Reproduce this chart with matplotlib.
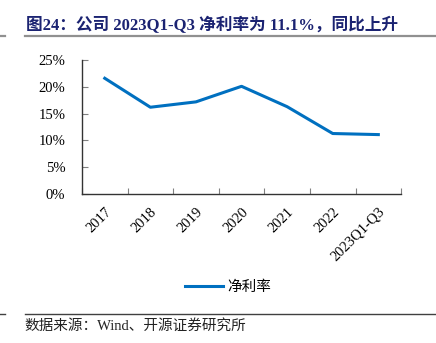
import matplotlib
matplotlib.use('Agg')
import matplotlib.pyplot as plt
from matplotlib.lines import Line2D

# 数据
categories = ['2017', '2018', '2019', '2020', '2021', '2022', '2023Q1-Q3']
net_margin = [21.6, 16.2, 17.2, 20.1, 16.3, 11.3, 11.1]
y_ticks = [0, 5, 10, 15, 20, 25]
y_labels = ['0%', '5%', '10%', '15%', '20%', '25%']

title = '图24：公司 2023Q1-Q3 净利率为 11.1%，同比上升'
source = '数据来源：Wind、开源证券研究所'
series_name = '净利率'

fonts = ['Liberation Serif', 'Noto Sans CJK SC']
plt.rcParams['font.family'] = fonts

fig = plt.figure(figsize=(4.36, 3.43), dpi=100)
ax = fig.add_axes([0.188, 0.434, 0.732, 0.391])

x = range(len(categories))
line, = ax.plot(x, net_margin, color='#0070C0', linewidth=2.2, label=series_name)

ax.set_xlim(-0.5, len(categories) - 0.5)
ax.set_ylim(0, 25)
ax.set_yticks(y_ticks)
ax.set_yticklabels(y_labels, fontsize=10.5)
ax.set_xticks([i - 0.5 for i in range(len(categories) + 1)], minor=False)
ax.set_xticklabels([])
ax.set_xticks(list(x), minor=True)
ax.set_xticklabels(categories, minor=True, rotation=45, ha='right', va='top',
                   rotation_mode='anchor', fontsize=10.5)
ax.tick_params(axis='x', which='minor', length=0, pad=8)
ax.tick_params(axis='x', which='major', direction='in', length=4, color='#808080')
ax.tick_params(axis='y', direction='in', length=4, color='#808080', pad=12)
for s in ['top', 'right']:
    ax.spines[s].set_visible(False)
for s in ['left', 'bottom']:
    ax.spines[s].set_color('#333333')
    ax.spines[s].set_linewidth(1.0)

fig.legend(handles=[line], loc='center', bbox_to_anchor=(0.523, 0.163),
           frameon=False, handlelength=2.6, handletextpad=0.3,
           prop={'family': fonts, 'size': 10.5})

# 标题与分隔线
fig.text(0.06, 0.927, title, fontsize=12, fontweight='bold', color='#1B2372',
         ha='left', va='center')
fig.add_artist(Line2D([0.057, 1.0], [0.895, 0.895], color='#909090', linewidth=1.6))
fig.add_artist(Line2D([0.0, 0.012], [0.895, 0.895], color='#909090', linewidth=1.6))
fig.add_artist(Line2D([0.057, 1.0], [0.0845, 0.0845], color='#404040', linewidth=1.0))
fig.add_artist(Line2D([0.0, 0.012], [0.0845, 0.0845], color='#404040', linewidth=1.0))
fig.text(0.057, 0.05, source, fontsize=10.5, color='#222222', ha='left', va='center')

fig.savefig('out.png', dpi=100)
